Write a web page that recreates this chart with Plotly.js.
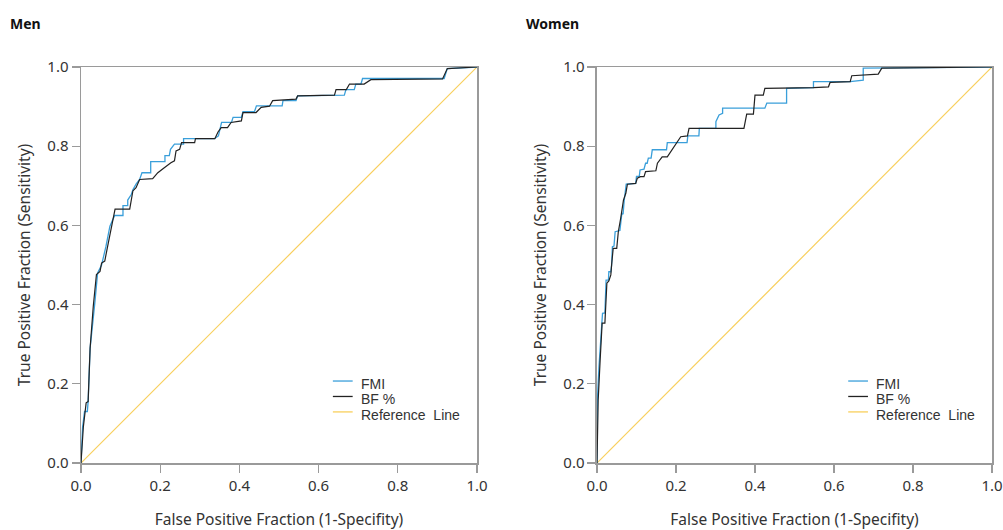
<!DOCTYPE html>
<html>
<head>
<meta charset="utf-8">
<script src="https://cdn.plot.ly/plotly-3.0.1.min.js"></script>
<style>html,body{margin:0;padding:0;background:#fff;}#chart{width:1003px;height:530px;}</style>
</head>
<body>
<div id="chart"></div>
<script>
// ---- data ----
const panelTitles = ["Men", "Women"];
const seriesNames = ["FMI", "BF %", "Reference  Line"];
const tickVals = [0, 0.2, 0.4, 0.6, 0.8, 1.0];
const tickText = ["0.0", "0.2", "0.4", "0.6", "0.8", "1.0"];
const refX = [0, 1];
const refY = [0, 1];

const menFmiX = [0,0.004,0.009,0.016,0.018,0.023,0.035,0.042,0.052,0.063,0.073,0.085,0.106,0.106,0.118,0.118,0.127,0.131,0.139,0.148,0.154,0.176,0.176,0.212,0.212,0.223,0.226,0.236,0.259,0.259,0.337,0.347,0.355,0.380,0.384,0.405,0.409,0.438,0.443,0.508,0.510,0.543,0.547,0.665,0.669,0.690,0.694,0.707,0.711,0.917,0.925,1];
const menFmiY = [0,0.09,0.13,0.13,0.155,0.29,0.405,0.48,0.50,0.547,0.598,0.625,0.625,0.65,0.65,0.664,0.678,0.69,0.704,0.716,0.733,0.733,0.761,0.761,0.776,0.776,0.792,0.805,0.805,0.819,0.819,0.826,0.860,0.860,0.873,0.873,0.887,0.887,0.902,0.902,0.915,0.915,0.927,0.929,0.943,0.943,0.957,0.957,0.971,0.971,0.996,1];

const menBfX = [0,0.006,0.013,0.018,0.023,0.031,0.039,0.048,0.052,0.060,0.069,0.081,0.086,0.123,0.128,0.131,0.139,0.148,0.181,0.194,0.207,0.215,0.227,0.236,0.240,0.249,0.254,0.287,0.289,0.338,0.346,0.354,0.370,0.379,0.405,0.409,0.442,0.455,0.476,0.484,0.543,0.547,0.640,0.644,0.670,0.678,0.715,0.732,0.913,0.925,1];
const menBfY = [0,0.092,0.152,0.155,0.29,0.396,0.476,0.484,0.505,0.51,0.556,0.623,0.641,0.641,0.666,0.687,0.695,0.716,0.718,0.733,0.743,0.750,0.758,0.763,0.788,0.792,0.809,0.809,0.819,0.819,0.836,0.847,0.847,0.860,0.864,0.885,0.885,0.898,0.901,0.915,0.919,0.927,0.929,0.943,0.943,0.957,0.957,0.968,0.970,0.996,1];

const womenFmiX = [0,0.001,0.005,0.012,0.014,0.020,0.023,0.029,0.030,0.035,0.037,0.039,0.043,0.046,0.058,0.063,0.066,0.069,0.074,0.098,0.100,0.107,0.109,0.119,0.123,0.127,0.130,0.137,0.140,0.176,0.178,0.228,0.230,0.258,0.259,0.301,0.301,0.309,0.318,0.318,0.425,0.430,0.480,0.480,0.548,0.548,0.641,0.674,0.674,1];
const womenFmiY = [0,0.159,0.243,0.353,0.378,0.379,0.462,0.462,0.483,0.483,0.500,0.546,0.548,0.584,0.587,0.631,0.628,0.664,0.704,0.706,0.724,0.724,0.740,0.742,0.757,0.757,0.770,0.770,0.791,0.791,0.809,0.809,0.826,0.826,0.845,0.845,0.862,0.879,0.883,0.896,0.896,0.909,0.909,0.946,0.948,0.963,0.963,0.967,0.997,1];

const womenBfX = [0,0.003,0.008,0.013,0.020,0.025,0.030,0.035,0.037,0.041,0.050,0.054,0.060,0.067,0.073,0.077,0.098,0.102,0.110,0.119,0.123,0.149,0.153,0.165,0.178,0.212,0.229,0.233,0.372,0.379,0.396,0.400,0.421,0.425,0.548,0.586,0.590,0.641,0.645,0.712,0.721,1];
const womenBfY = [0,0.159,0.26,0.353,0.353,0.454,0.46,0.475,0.500,0.542,0.542,0.584,0.618,0.664,0.681,0.704,0.706,0.719,0.723,0.723,0.736,0.738,0.757,0.773,0.773,0.824,0.826,0.845,0.845,0.881,0.881,0.929,0.929,0.946,0.948,0.950,0.961,0.963,0.978,0.982,0.997,1];

// ---- styling ----
const FONT = "'Noto Sans', 'Open Sans', sans-serif";
const LEG_FONT = "'Liberation Sans', Arial, sans-serif";
const C_FMI = "#3a9fda";
const C_BF = "#222222";
const C_REF = "#f8cf5c";
const C_AXIS = "#9a9a9a";
const C_TEXT = "#333333";

function tr(x, y, name, color, xa, ya, w) {
  return {x: x, y: y, name: name, type: "scatter", mode: "lines",
          line: {color: color, width: w}, xaxis: xa, yaxis: ya,
          showlegend: false, hoverinfo: "skip"};
}

const data = [
  tr(refX, refY, seriesNames[2], C_REF, "x", "y", 1.2),
  tr(menFmiX, menFmiY, seriesNames[0], C_FMI, "x", "y", 1.3),
  tr(menBfX, menBfY, seriesNames[1], C_BF, "x", "y", 1.2),
  tr(refX, refY, seriesNames[2], C_REF, "x2", "y2", 1.2),
  tr(womenFmiX, womenFmiY, seriesNames[0], C_FMI, "x2", "y2", 1.3),
  tr(womenBfX, womenBfY, seriesNames[1], C_BF, "x2", "y2", 1.2)
];

function xax(domain, anchor) {
  return {domain: domain, anchor: anchor, range: [0, 1], fixedrange: true,
    tickmode: "array", tickvals: tickVals, ticktext: tickText,
    ticks: "outside", ticklen: 8, tickwidth: 1.3, tickcolor: C_AXIS,
    showline: true, linecolor: C_AXIS, linewidth: 1.5, mirror: true,
    showgrid: false, zeroline: false,
    tickfont: {family: FONT, size: 15, color: C_TEXT},
    title: {text: "False Positive Fraction (1-Specifity)", standoff: 20,
            font: {family: FONT, size: 15.5, color: C_TEXT}}};
}
function yax(anchor) {
  return {domain: [0, 1], anchor: anchor, range: [0, 1], fixedrange: true,
    tickmode: "array", tickvals: tickVals, ticktext: tickText,
    ticks: "outside", ticklen: 8, tickwidth: 1.3, tickcolor: C_AXIS,
    showline: true, linecolor: C_AXIS, linewidth: 1.5, mirror: true,
    showgrid: false, zeroline: false,
    tickfont: {family: FONT, size: 15, color: C_TEXT},
    title: {text: "True Positive Fraction (Sensitivity)", standoff: 13,
            font: {family: FONT, size: 15.5, color: C_TEXT}}};
}

// manual legends (one per panel)
const shapes = [];
const annotations = [];
const legendRows = [0.207, 0.168, 0.129];
const legendColors = [C_FMI, C_BF, C_REF];
["x", "x2"].forEach(function (xa, p) {
  const ya = p === 0 ? "y" : "y2";
  for (let i = 0; i < 3; i++) {
    shapes.push({type: "line", xref: xa + " domain", yref: ya + " domain",
      x0: 0.636, x1: 0.686, y0: legendRows[i], y1: legendRows[i],
      line: {color: legendColors[i], width: 1.3}});
    annotations.push({xref: xa + " domain", yref: ya + " domain",
      x: 0.704, y: legendRows[i] - 0.007, xanchor: "left", yanchor: "middle",
      text: seriesNames[i].replace("  ", "&nbsp; "), showarrow: false,
      borderpad: 0,
      font: {family: LEG_FONT, size: 14, color: C_TEXT}});
  }
  annotations.push({xref: "paper", yref: "paper", x: p === 0 ? -0.0805 : 0.4858,
    y: 1.0, yshift: 44, xanchor: "left", yanchor: "middle",
    text: "<b>" + panelTitles[p] + "</b>", showarrow: false,
    font: {family: FONT, size: 14, color: "#111"}});
});

const layout = {
  width: 1003, height: 530,
  margin: {l: 81, r: 11, t: 67, b: 67, pad: 0},
  paper_bgcolor: "#ffffff", plot_bgcolor: "#ffffff",
  showlegend: false,
  xaxis: xax([0, 0.4347], "y"),
  yaxis: yax("x"),
  xaxis2: xax([0.5664, 1], "y2"),
  yaxis2: yax("x2"),
  shapes: shapes,
  annotations: annotations
};

Plotly.newPlot("chart", data, layout, {displayModeBar: false, staticPlot: true});
</script>
</body>
</html>
